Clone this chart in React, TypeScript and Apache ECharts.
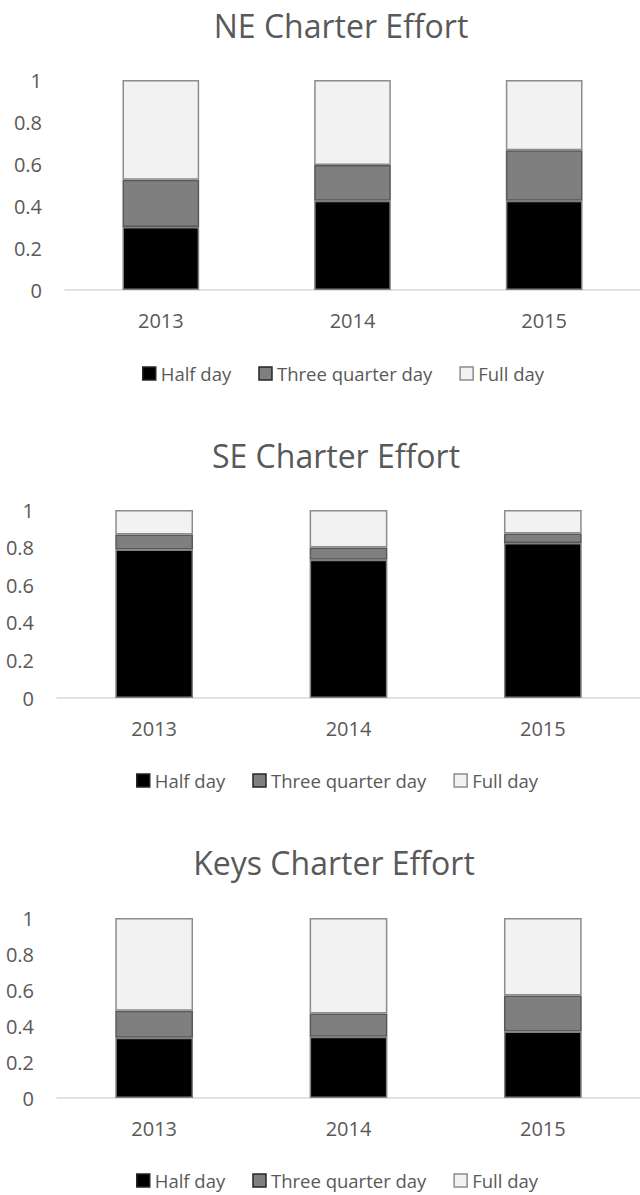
import React, { useEffect, useRef } from "react";
import * as echarts from "echarts";

const categories = ["2013", "2014", "2015"];
const seriesNames = ["Half day", "Three quarter day", "Full day"];
const yTicks = [0, 0.2, 0.4, 0.6, 0.8, 1];

const chartTitles = ["NE Charter Effort", "SE Charter Effort", "Keys Charter Effort"];

const neHalf = [0.3, 0.425, 0.425];
const neThreeQuarter = [0.225, 0.17, 0.24];
const neFull = [0.475, 0.405, 0.335];

const seHalf = [0.79, 0.735, 0.825];
const seThreeQuarter = [0.08, 0.065, 0.05];
const seFull = [0.13, 0.2, 0.125];

const keysHalf = [0.335, 0.34, 0.37];
const keysThreeQuarter = [0.15, 0.13, 0.2];
const keysFull = [0.515, 0.53, 0.43];

const FONT = "'Open Sans', sans-serif";
const TEXT = "#595959";

const fills = ["#000000", "#7f7f7f", "#f2f2f2"];
const borders = ["#7f7f7f", "#595959", "#8c8c8c"];

const panels = [
  { data: [neHalf, neThreeQuarter, neFull], grid: { left: 65, top: 80, height: 210 }, titleX: 336, titleTop: 4, legendLeft: 137, legendTop: 359 },
  { data: [seHalf, seThreeQuarter, seFull], grid: { left: 57, top: 510, height: 188 }, titleX: 331, titleTop: 434, legendLeft: 131, legendTop: 766 },
  { data: [keysHalf, keysThreeQuarter, keysFull], grid: { left: 57, top: 918, height: 180 }, titleX: 329, titleTop: 841, legendLeft: 131, legendTop: 1166 },
];

export default function App() {
  const ref = useRef<HTMLDivElement>(null);
  useEffect(() => {
    if (!ref.current) return;
    const chart = echarts.init(ref.current, null, { renderer: "svg" });
    const option: any = {
      animation: false,
      backgroundColor: "#ffffff",
      title: panels.map((p, i) => ({
        text: chartTitles[i],
        left: p.titleX,
        top: p.titleTop,
        textAlign: "center",
        textStyle: { fontFamily: FONT, fontSize: 32, fontWeight: "normal", color: TEXT },
      })),
      legend: panels.map((p) => ({
        left: p.legendLeft,
        top: p.legendTop,
        itemWidth: 13,
        itemHeight: 13,
        itemGap: 27,
        icon: "rect",
        selectedMode: false,
        textStyle: { fontFamily: FONT, fontSize: 18.5, color: TEXT },
        data: seriesNames.map((n, k) => ({
          name: n,
          itemStyle: { color: fills[k], borderColor: k === 2 ? "#8c8c8c" : "#262626", borderWidth: 1.5 },
        })),
      })),
      grid: panels.map((p) => ({ left: p.grid.left, top: p.grid.top, height: p.grid.height, width: 586, containLabel: false })),
      xAxis: panels.map((_, i) => ({
        type: "category",
        gridIndex: i,
        data: categories,
        axisLine: { lineStyle: { color: "#d9d9d9", width: 1.5 } },
        axisTick: { show: false },
        axisLabel: { fontFamily: FONT, fontSize: 20, color: TEXT, margin: 20 },
      })),
      yAxis: panels.map((_, i) => ({
        type: "value",
        gridIndex: i,
        min: 0,
        max: 1,
        interval: 0.2,
        axisLine: { show: false },
        axisTick: { show: false },
        splitLine: { show: false },
        axisLabel: {
          fontFamily: FONT,
          fontSize: 20,
          color: TEXT,
          margin: 23,
          formatter: (v: number) => {
            const t = yTicks.find((x) => Math.abs(x - v) < 1e-9);
            return t === undefined ? "" : String(t);
          },
        },
      })),
      series: panels.flatMap((p, i) =>
        p.data.map((vals, k) => ({
          type: "bar",
          name: seriesNames[k],
          stack: "s" + i,
          xAxisIndex: i,
          yAxisIndex: i,
          barWidth: "40%",
          data: vals,
          itemStyle: { color: fills[k], borderColor: borders[k], borderWidth: 1.5 },
        }))
      ),
    };
    chart.setOption(option);
    return () => chart.dispose();
  }, []);
  return <div ref={ref} style={{ position: "absolute", left: 0, top: 0, width: 640, height: 1195 }} />;
}
